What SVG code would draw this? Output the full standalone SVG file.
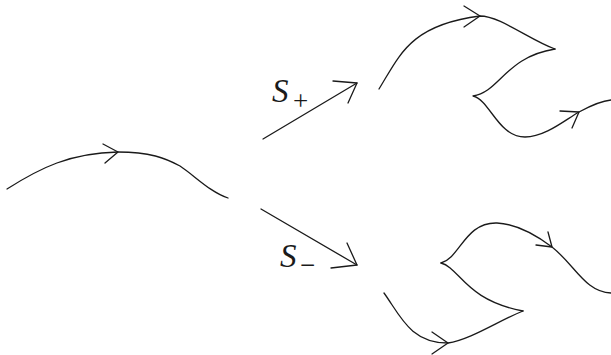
<svg xmlns="http://www.w3.org/2000/svg" width="611" height="355" viewBox="0 0 611 355">
<style>
.c{fill:none;stroke:#1a1a1a;stroke-width:1.3;stroke-linecap:round;stroke-linejoin:round}
.t{font-family:"Liberation Serif",serif;fill:#1a1a1a}
</style>
<rect width="611" height="355" fill="#fff"/>
<g id="connectors">
<path class="c" d="M7,189 C40,168 70,153 118,152 C150,152 165,158 180,166 C195,176 210,192 228,198"/>
<path class="c" d="M103,144 L118,152 L105,163"/>
<path class="c" d="M263,139 L357,83"/>
<path class="c" d="M333,81 L357,83 L348,103"/>
<path class="c" d="M261,209 L357,265"/>
<path class="c" d="M331,268 L357,265 L347,243"/>
<path class="c" d="M379,89 C400,55 410,25 480,16 C500,16 530,40 555,49"/>
<path class="c" d="M464,6 L480,16 L464,27"/>
<path class="c" d="M555,49 C505,57 500,92 473,96 C490,100 498,137 525,137 C545,137 565,120 579,112 C590,106 600,101 611,100"/>
<path class="c" d="M560,111 L579,112 L572,128"/>
<path class="c" d="M441,263 C460,258 465,222 497,223 C520,224 540,238 552,247 C575,265 585,292 611,293"/>
<path class="c" d="M536,245 L552,247 L548,232"/>
<path class="c" d="M441,263 C460,268 465,300 523,311"/>
<path class="c" d="M384,293 C400,315 410,343 448,343 C470,340 500,320 523,311"/>
<path class="c" d="M432,332 L448,343 L432,354"/>
</g>
<g id="label-splus">
<text class="t" x="272" y="102" font-size="33" font-style="italic">S</text>
<text class="t" x="293" y="110" font-size="27">+</text>
</g>
<g id="label-sminus">
<text class="t" x="280" y="267" font-size="33" font-style="italic">S</text>
<text class="t" x="300" y="274" font-size="27">−</text>
</g>
</svg>
